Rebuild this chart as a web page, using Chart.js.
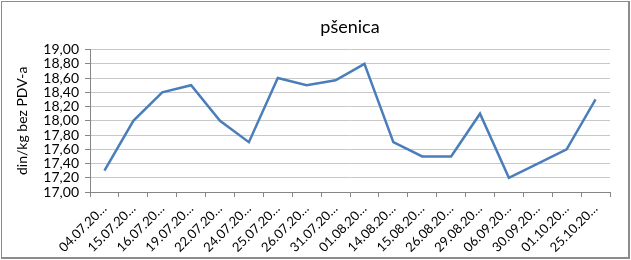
<!DOCTYPE html>
<html>
<head>
<meta charset="utf-8">
<script src="https://cdn.jsdelivr.net/npm/chart.js@4"></script>
<style>
  body { margin: 0; background: #fff; }
  #wrap { position: absolute; left: 1px; top: 1px; width: 626px; height: 255px; border: 1px solid #8c8c8c; border-right-width: 2px; border-bottom-width: 2px; }
</style>
</head>
<body>
<div id="wrap"><canvas id="chart" width="626" height="255"></canvas></div>
<script>
// Dates (labels are cut off in the original, kept as shown)
const labels = ['04.07.20…','15.07.20…','16.07.20…','19.07.20…','22.07.20…','24.07.20…','25.07.20…','26.07.20…','31.07.20…','01.08.20…','14.08.20…','15.08.20…','26.08.20…','29.08.20…','06.09.20…','30.09.20…','01.10.20…','25.10.20…'];
const prices = [17.30, 18.00, 18.40, 18.50, 18.00, 17.70, 18.60, 18.50, 18.57, 18.80, 17.70, 17.50, 17.50, 18.10, 17.20, 17.40, 17.60, 18.30];
const yMin = 17, yMax = 19, yStep = 0.2;

const font = 'Lato, "Open Sans", "Liberation Sans", sans-serif';

new Chart(document.getElementById('chart'), {
  type: 'line',
  data: {
    labels: labels,
    datasets: [{ data: prices, borderColor: '#4a7ebb', borderWidth: 2.5, pointRadius: 0, tension: 0 }]
  },
  options: {
    responsive: false,
    animation: false,
    layout: { padding: { left: 0, right: 18, top: 8, bottom: 0 } },
    plugins: {
      legend: { display: false },
      tooltip: { enabled: false },
      title: {
        display: true, text: 'pšenica', color: '#000', fullSize: false,
        font: { family: font, size: 18, weight: 'normal' }, padding: { top: 6, bottom: 12 }
      }
    },
    scales: {
      x: {
        offset: true,
        grid: { offset: true, drawOnChartArea: false, color: '#868686', tickLength: 5 },
        border: { color: '#868686' },
        ticks: { color: '#000', font: { family: font, size: 13 }, minRotation: 45, maxRotation: 45, autoSkip: false, padding: 4 },
        afterFit: s => { s.height = 65; }
      },
      y: {
        min: yMin, max: yMax,
        grid: { color: '#c8c8c8', tickLength: 5, tickColor: '#868686' },
        border: { color: '#868686' },
        ticks: { stepSize: yStep, autoSkip: false, color: '#000', font: { family: font, size: 14 }, padding: 6,
          callback: v => v.toFixed(2).replace('.', ',') },
        title: { display: true, text: 'din/kg bez PDV-a', color: '#000', font: { family: font, size: 14 }, padding: { top: 12, bottom: 0 } },
        afterFit: s => { s.width = 88; }
      }
    }
  }
});
</script>
</body>
</html>
